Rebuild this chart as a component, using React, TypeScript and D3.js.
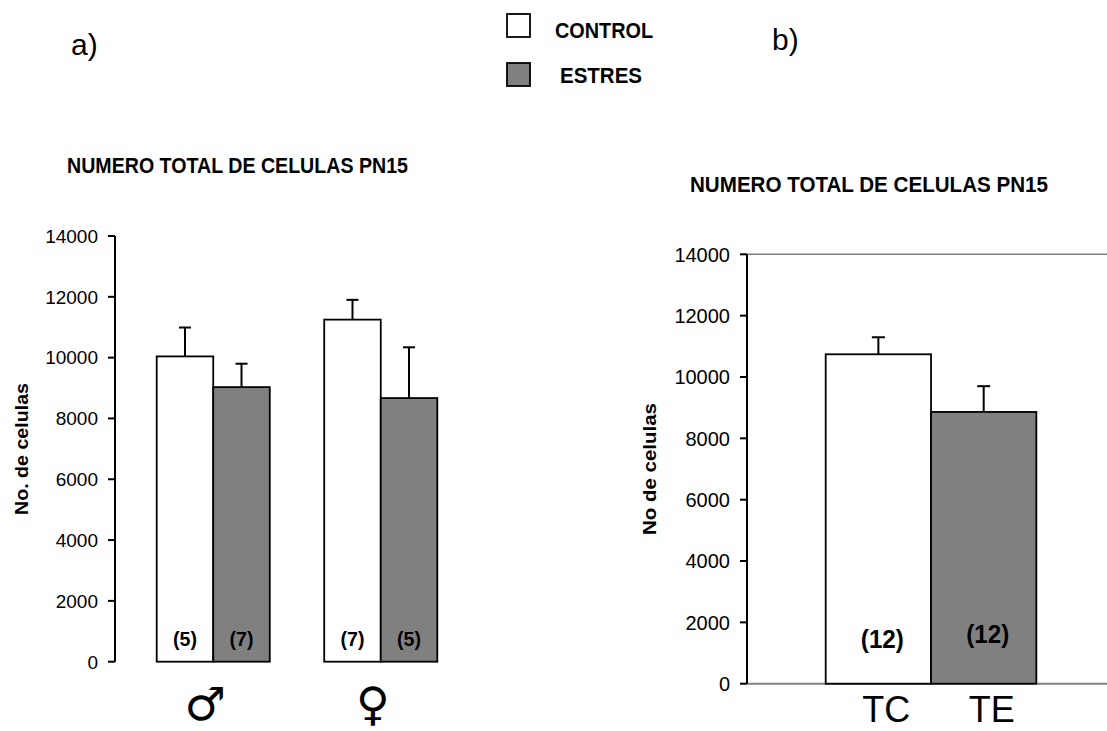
import React from "react";
import * as d3 from "d3";

// ---------- data ----------
const groups = ["♂", "♀"];
const seriesNames = ["CONTROL", "ESTRES"];
const controlMeans = [10040, 11250];
const controlErr = [950, 650];
const controlN = ["(5)", "(7)"];
const estresMeans = [9030, 8670];
const estresErr = [770, 1670];
const estresN = ["(7)", "(5)"];

const totalCats = ["TC", "TE"];
const totalMeans = [10740, 8860];
const totalErr = [555, 840];
const totalN = ["(12)", "(12)"];

const yTicks = [0, 2000, 4000, 6000, 8000, 10000, 12000, 14000];
const titleText = "NUMERO TOTAL DE CELULAS PN15";

const FILL = ["#ffffff", "#808080"];
const FONT = "'Liberation Sans', Arial, Helvetica, sans-serif";

export default function App() {
  // ---- left chart scales ----
  const yL = d3.scaleLinear().domain([0, 14000]).range([661.7, 236]);
  const xL = d3
    .scaleBand<string>()
    .domain(groups)
    .range([115, 479])
    .paddingInner(0.325)
    .paddingOuter(0.249);
  const xLi = d3
    .scaleBand<string>()
    .domain(seriesNames)
    .range([0, xL.bandwidth()])
    .padding(0);

  // ---- right chart scales ----
  const yR = d3.scaleLinear().domain([0, 14000]).range([683.7, 254.3]);
  const xR = d3
    .scaleBand<string>()
    .domain(totalCats)
    .range([747, 1107])
    .paddingInner(0)
    .paddingOuter(0.709)
    .align(0.527);

  const leftBars = groups.flatMap((g, i) => [
    { g, s: seriesNames[0], v: controlMeans[i], e: controlErr[i], n: controlN[i], k: 0 },
    { g, s: seriesNames[1], v: estresMeans[i], e: estresErr[i], n: estresN[i], k: 1 },
  ]);

  const nOffsetR = [36, 41];

  return (
    <svg
      width={1107}
      height={731}
      style={{ position: "absolute", left: 0, top: 0, background: "#fff" }}
      fontFamily={FONT}
    >
      <rect x={0} y={0} width={1107} height={731} fill="#fff" />

      {/* panel labels */}
      <text x={71} y={55} fontSize={30} fill="#000">a)</text>
      <text x={772} y={50} fontSize={30} fill="#000">b)</text>

      {/* legend */}
      {seriesNames.map((s, i) => (
        <g key={s}>
          <rect
            x={507}
            y={14 + i * 49}
            width={23}
            height={23}
            fill={FILL[i]}
            stroke="#000"
            strokeWidth={1.8}
          />
          <text
            x={i === 0 ? 555 : 560}
            y={38 + i * 45}
            fontSize={22}
            fontWeight="bold"
            textLength={i === 0 ? 98 : 82}
            lengthAdjust="spacingAndGlyphs"
          >
            {s}
          </text>
        </g>
      ))}

      {/* ---------- LEFT CHART ---------- */}
      <text
        x={67}
        y={173}
        fontSize={21.5}
        fontWeight="bold"
        textLength={341}
        lengthAdjust="spacingAndGlyphs"
      >
        {titleText}
      </text>

      <text
        transform={`translate(28,449) rotate(-90)`}
        textAnchor="middle"
        fontSize={19}
        fontWeight="bold"
        textLength={132}
        lengthAdjust="spacingAndGlyphs"
      >
        No. de celulas
      </text>

      <line x1={115} x2={115} y1={yL(14000)} y2={yL(0)} stroke="#000" strokeWidth={2} />
      {yTicks.map((t) => (
        <g key={t}>
          <line x1={108} x2={115} y1={yL(t)} y2={yL(t)} stroke="#000" strokeWidth={2} />
          <text
            x={98}
            y={yL(t)}
            dy="0.36em"
            textAnchor="end"
            fontSize={19}
          >
            {t}
          </text>
        </g>
      ))}

      {leftBars.map((b) => {
        const x0 = (xL(b.g) ?? 0) + (xLi(b.s) ?? 0);
        const w = xLi.bandwidth();
        const cx = x0 + w / 2;
        return (
          <g key={b.g + b.s}>
            <line x1={cx} x2={cx} y1={yL(b.v)} y2={yL(b.v + b.e)} stroke="#000" strokeWidth={2} />
            <line x1={cx - 6} x2={cx + 6} y1={yL(b.v + b.e)} y2={yL(b.v + b.e)} stroke="#000" strokeWidth={2} />
            <rect
              x={x0}
              y={yL(b.v)}
              width={w}
              height={yL(0) - yL(b.v)}
              fill={FILL[b.k]}
              stroke="#000"
              strokeWidth={1.8}
            />
            <text
              x={cx}
              y={yL(0) - 16}
              textAnchor="middle"
              fontSize={21}
              fontWeight="bold"
              textLength={24}
              lengthAdjust="spacingAndGlyphs"
            >
              {b.n}
            </text>
          </g>
        );
      })}

      {groups.map((g) => (
        <text
          key={g}
          x={(xL(g) ?? 0) + xL.bandwidth() / 2 - 8}
          y={720}
          textAnchor="middle"
          fontSize={46}
          fontFamily="'DejaVu Sans', sans-serif"
        >
          {g}
        </text>
      ))}

      {/* ---------- RIGHT CHART ---------- */}
      <text
        x={690}
        y={192}
        fontSize={22.5}
        fontWeight="bold"
        textLength={358}
        lengthAdjust="spacingAndGlyphs"
      >
        {titleText}
      </text>

      <text
        transform={`translate(656,469) rotate(-90)`}
        textAnchor="middle"
        fontSize={19}
        fontWeight="bold"
        textLength={132}
        lengthAdjust="spacingAndGlyphs"
      >
        No de celulas
      </text>

      <line x1={747} x2={1107} y1={yR(14000)} y2={yR(14000)} stroke="#808080" strokeWidth={1.5} />
      <line x1={747} x2={1107} y1={yR(0)} y2={yR(0)} stroke="#808080" strokeWidth={2} />

      {totalCats.map((c, i) => {
        const x0 = xR(c) ?? 0;
        const w = xR.bandwidth();
        const cx = x0 + w / 2;
        const v = totalMeans[i];
        const e = totalErr[i];
        return (
          <g key={c}>
            <line x1={cx} x2={cx} y1={yR(v)} y2={yR(v + e)} stroke="#000" strokeWidth={2} />
            <line x1={cx - 6.5} x2={cx + 6.5} y1={yR(v + e)} y2={yR(v + e)} stroke="#000" strokeWidth={2} />
            <rect
              x={x0}
              y={yR(v)}
              width={w}
              height={yR(0) - yR(v)}
              fill={FILL[i]}
              stroke="#000"
              strokeWidth={1.8}
            />
            <text
              x={cx + 4}
              y={yR(0) - nOffsetR[i]}
              textAnchor="middle"
              fontSize={26}
              fontWeight="bold"
              textLength={43}
              lengthAdjust="spacingAndGlyphs"
            >
              {totalN[i]}
            </text>
            <text
              x={cx + 8}
              y={722}
              textAnchor="middle"
              fontSize={36}
            >
              {c}
            </text>
          </g>
        );
      })}

      <line x1={747} x2={747} y1={yR(14000)} y2={yR(0)} stroke="#000" strokeWidth={2} />
      {yTicks.map((t) => (
        <g key={"r" + t}>
          <line x1={740} x2={747} y1={yR(t)} y2={yR(t)} stroke="#000" strokeWidth={2} />
          <text
            x={730}
            y={yR(t)}
            dy="0.36em"
            textAnchor="end"
            fontSize={20}
          >
            {t}
          </text>
        </g>
      ))}
    </svg>
  );
}
